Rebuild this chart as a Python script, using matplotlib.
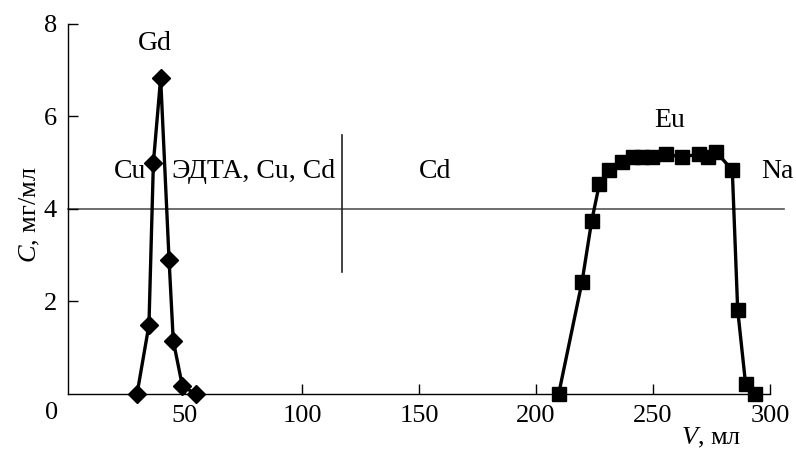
import numpy as np
import matplotlib
matplotlib.use("Agg")
import matplotlib.pyplot as plt

# Data

gd_v = [29.5, 34.6, 36.5, 39.6, 43.2, 45.0, 48.9, 54.7]
gd_c = [0.0, 1.49, 5.0, 6.83, 2.9, 1.15, 0.17, 0.0]

eu_v = [209.7, 219.7, 223.8, 227.1, 231.3, 236.6, 241.3, 245.2, 249.4,
        255.4, 262.3, 269.7, 273.6, 276.9, 283.9, 286.2, 289.6, 293.6]
eu_c = [0.0, 2.43, 3.74, 4.54, 4.84, 5.02, 5.13, 5.13, 5.13,
        5.18, 5.13, 5.18, 5.13, 5.24, 4.84, 1.82, 0.21, 0.0]

x_ticks = [50, 100, 150, 200, 250, 300]
y_ticks = [2, 4, 6, 8]

zone_labels = ["Cu", "ЭДТА, Cu, Cd", "Cd", "Na"]
zone_x = [26.5, 44.5, 157, 303]
zone_align = ["center", "left", "center", "center"]
zone_y = 4.8

plt.rcParams['font.family'] = ['Liberation Serif', 'DejaVu Serif']
plt.rcParams['mathtext.fontset'] = 'custom'
plt.rcParams['mathtext.it'] = 'Liberation Serif:italic'
plt.rcParams['mathtext.rm'] = 'Liberation Serif'
fs = 19

fig = plt.figure(figsize=(7.96, 4.51), dpi=100)
ax = fig.add_axes([0.0854, 0.1264, 0.8819, 0.8204])

ax.plot(gd_v, gd_c, color='black', lw=2.4, marker='D', ms=9.5, clip_on=False, zorder=3)
ax.plot(eu_v, eu_c, color='black', lw=2.4, marker='s', ms=10, clip_on=False, zorder=3)

# boundary lines
ax.plot([0, 306], [4, 4], color='#555555', lw=1.2, clip_on=False, zorder=1)
ax.plot([117, 117], [2.64, 5.6], color='#222222', lw=1.2, zorder=1)

ax.set_xlim(0, 300)
ax.set_ylim(0, 8)

for s in ['top', 'right']:
    ax.spines[s].set_visible(False)
for s in ['left', 'bottom']:
    ax.spines[s].set_linewidth(1.0)

ax.set_xticks(x_ticks)
ax.set_yticks(y_ticks)
ax.tick_params(direction='in', length=7, width=1.0, labelsize=fs, pad=8)
ax.text(-0.023, -0.052, "0", transform=ax.transAxes, ha='center', va='center', fontsize=fs)

ax.text(37, 7.57, "Gd", ha='center', va='center', fontsize=20)
ax.text(257, 5.92, "Eu", ha='center', va='center', fontsize=20)
for lab, xv, al in zip(zone_labels, zone_x, zone_align):
    ax.text(xv, zone_y, lab, ha=al, va='center', fontsize=20, clip_on=False)

ax.text(-0.054, 0.484, "$C$, мг/мл", transform=ax.transAxes, rotation=90,
        ha='center', va='center', fontsize=fs)
ax.text(0.916, -0.119, "$V$, мл", transform=ax.transAxes, ha='center', va='center', fontsize=fs)

fig.savefig("out.png", dpi=100)
